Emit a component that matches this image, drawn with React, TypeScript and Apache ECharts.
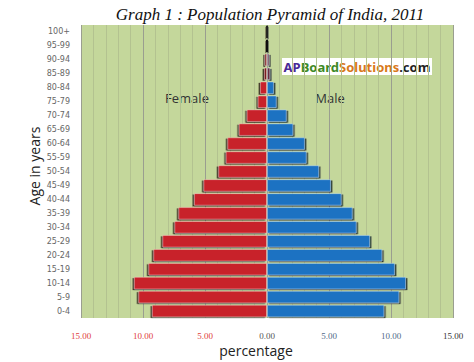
import React, { useEffect, useRef } from "react";
import * as echarts from "echarts";

const ageGroups = [
  "0-4", "5-9", "10-14", "15-19", "20-24", "25-29", "30-34", "35-39", "40-44", "45-49",
  "50-54", "55-59", "60-64", "65-69", "70-74", "75-79", "80-84", "85-89", "90-94", "95-99", "100+",
];
const femalePct = [
  9.28, 10.38, 10.73, 9.57, 9.17, 8.44, 7.47, 7.15, 5.89, 5.13,
  3.93, 3.33, 3.2, 2.28, 1.64, 0.75, 0.56, 0.24, 0.2, 0.08, 0.07,
];
const malePct = [
  9.46, 10.67, 11.21, 10.32, 9.3, 8.31, 7.23, 6.91, 6.02, 5.16,
  4.2, 3.2, 3.06, 2.12, 1.59, 0.78, 0.56, 0.26, 0.19, 0.08, 0.07,
];
const xMin = -15;
const xMax = 15;
const xStep = 5;

function barItems(values: number[], sign: number, color: string, darkColor: string) {
  return values.map((v) => ({
    value: sign * v,
    itemStyle: v < 0.1 ? { color: "#111", borderWidth: 0 } : v < 0.3 ? { color: darkColor } : { color },
  }));
}

export default function App() {
  const ref = useRef<HTMLDivElement>(null);
  useEffect(() => {
    if (!ref.current) return;
    const chart = echarts.init(ref.current, null, { renderer: "svg" });
    chart.setOption({
      animation: false,
      backgroundColor: "#ffffff",
      title: {
        text: "Graph 1 : Population Pyramid of India, 2011",
        left: 265,
        textAlign: "center",
        top: 1,
        textStyle: {
          fontFamily: "Liberation Serif, serif",
          fontStyle: "italic",
          fontWeight: "normal",
          fontSize: 17,
          color: "#111",
        },
      },
      grid: {
        left: 81,
        right: 21,
        top: 25,
        bottom: 44,
        show: true,
        backgroundColor: "#c4d79b",
        borderWidth: 0,
      },
      xAxis: {
        type: "value",
        min: xMin,
        max: xMax,
        interval: xStep,
        axisLine: { show: false },
        axisTick: { show: false },
        splitLine: { show: true, lineStyle: { color: "#9a9e90", width: 1 } },
        minorTick: { show: false, splitNumber: 5 },
        minorSplitLine: { show: true, lineStyle: { color: "#b3c290", width: 1 } },
        axisLabel: {
          margin: 13,
          formatter: (v: number) => {
            const s = Math.abs(v).toFixed(2);
            if (v < 0) return "{neg|" + s + "}";
            if (v === 0) return "{zero|" + s + "}";
            if (v === 15) return "{end|" + s + "}";
            return "{pos|" + s + "}";
          },
          rich: {
            neg: { color: "#e0403c", fontSize: 9, fontFamily: "Liberation Serif, serif" },
            zero: { color: "#555", fontSize: 9, fontFamily: "Liberation Serif, serif" },
            pos: { color: "#4f6a88", fontSize: 9, fontFamily: "Liberation Serif, serif" },
            end: { color: "#333", fontSize: 9, fontFamily: "Liberation Serif, serif" },
          },
        },
      },
      yAxis: {
        type: "category",
        data: ageGroups,
        axisLine: { show: false },
        axisTick: { show: false },
        axisLabel: {
          fontSize: 8,
          color: "#666",
          margin: 11,
          fontFamily: "DejaVu Sans, sans-serif",
        },
      },
      series: [
        {
          name: "Female",
          type: "bar",
          data: barItems(femalePct, -1, "#c8202a", "#7a1a22"),
          barGap: "-100%",
          barCategoryGap: "10%",
          itemStyle: {
            color: "#c8202a",
            borderColor: "rgba(255,220,220,0.4)",
            borderWidth: 1,
            shadowColor: "rgba(20,0,0,0.85)",
            shadowBlur: 0,
            shadowOffsetX: -1.5,
            shadowOffsetY: 1,
          },
        },
        {
          name: "Male",
          type: "bar",
          data: barItems(malePct, 1, "#1f72c2", "#6a2a40"),
          barGap: "-100%",
          barCategoryGap: "10%",
          itemStyle: {
            color: "#1f72c2",
            borderColor: "rgba(210,235,255,0.4)",
            borderWidth: 1,
            shadowColor: "rgba(0,10,30,0.85)",
            shadowBlur: 0,
            shadowOffsetX: 1.5,
            shadowOffsetY: 1,
          },
        },
      ],
      graphic: [
        {
          type: "text",
          x: 187,
          y: 98,
          style: {
            text: "Female",
            fill: "#333",
            font: "13px 'Open Sans', sans-serif",
            textAlign: "center",
            textVerticalAlign: "middle",
          },
        },
        {
          type: "text",
          x: 330,
          y: 98,
          style: {
            text: "Male",
            fill: "#333",
            font: "13px 'Open Sans', sans-serif",
            textAlign: "center",
            textVerticalAlign: "middle",
          },
        },
        {
          type: "rect",
          shape: { x: 282, y: 58, width: 150, height: 17 },
          style: { fill: "#ffffff" },
        },
        {
          type: "text",
          x: 357,
          y: 67,
          style: {
            text: "{a|AP}{b|Board}{c|Solutions}{d|.com}",
            textAlign: "center",
            textVerticalAlign: "middle",
            rich: {
              a: { fill: "#4a2a96", fontSize: 13, fontWeight: "bold", fontFamily: "Noto Sans, sans-serif" },
              b: { fill: "#3d8a26", fontSize: 13, fontWeight: "bold", fontFamily: "Noto Sans, sans-serif" },
              c: { fill: "#d9781a", fontSize: 13, fontWeight: "bold", fontFamily: "Noto Sans, sans-serif" },
              d: { fill: "#222", fontSize: 13, fontWeight: "bold", fontFamily: "Noto Sans, sans-serif" },
            },
          },
        },
        {
          type: "text",
          x: 34,
          y: 166,
          rotation: Math.PI / 2,
          style: {
            text: "Age in years",
            fill: "#222",
            font: "14px 'Open Sans', sans-serif",
            textAlign: "center",
            textVerticalAlign: "middle",
          },
        },
        {
          type: "text",
          x: 256,
          y: 350,
          style: {
            text: "percentage",
            fill: "#222",
            font: "14px 'Open Sans', sans-serif",
            textAlign: "center",
            textVerticalAlign: "middle",
          },
        },
      ],
    });
    return () => chart.dispose();
  }, []);
  return (
    <div
      ref={ref}
      style={{ position: "fixed", left: 0, top: 0, width: 474, height: 362 }}
    />
  );
}
